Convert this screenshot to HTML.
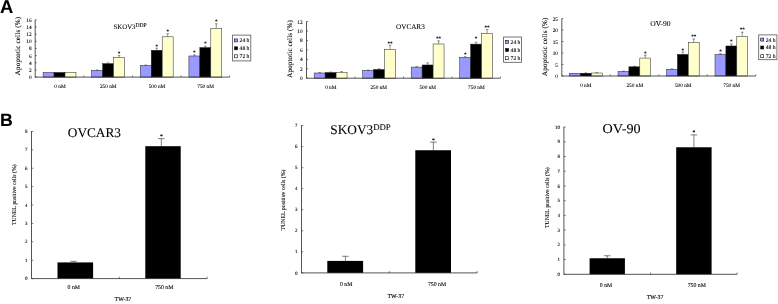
<!DOCTYPE html>
<html lang="en"><head><meta charset="utf-8"><title>Figure</title>
<style>html,body{margin:0;padding:0;background:#fff;}body{width:778px;height:304px;overflow:hidden;}svg{display:block;will-change:transform;}text{fill:#000;text-rendering:geometricPrecision;stroke:#000;stroke-width:0.09px;}</style>
</head><body>
<svg width="778" height="304" viewBox="0 0 778 304">
<rect x="0" y="0" width="778" height="304" fill="#ffffff"/>
<text x="0" y="13.1" font-size="18.4" text-anchor="start" font-family='"Liberation Sans", sans-serif' font-weight="bold">A</text>
<text x="0.1" y="126" font-size="17.7" text-anchor="start" font-family='"Liberation Sans", sans-serif' font-weight="bold">B</text>
<!-- Panel A -->
<rect x="43.1" y="72.45" width="10.95" height="4.65" fill="#9999ff" stroke="#222" stroke-width="0.5"/>
<rect x="54.05" y="72.45" width="10.95" height="4.65" fill="#000000" stroke="#222" stroke-width="0.5"/>
<rect x="65" y="72.45" width="10.95" height="4.65" fill="#ffffcc" stroke="#222" stroke-width="0.5"/>
<rect x="91.7" y="70.41" width="10.95" height="6.69" fill="#9999ff" stroke="#222" stroke-width="0.5"/>
<line x1="97.18" y1="70.41" x2="97.18" y2="69.98" stroke="#2a2a2a" stroke-width="0.5"/>
<line x1="95.88" y1="69.98" x2="98.48" y2="69.98" stroke="#2a2a2a" stroke-width="0.5"/>
<rect x="102.65" y="63.67" width="10.95" height="13.43" fill="#000000" stroke="#222" stroke-width="0.5"/>
<line x1="108.13" y1="63.67" x2="108.13" y2="62.96" stroke="#2a2a2a" stroke-width="0.5"/>
<line x1="106.83" y1="62.96" x2="109.43" y2="62.96" stroke="#2a2a2a" stroke-width="0.5"/>
<rect x="113.6" y="57.41" width="10.95" height="19.69" fill="#ffffcc" stroke="#222" stroke-width="0.5"/>
<line x1="119.08" y1="57.41" x2="119.08" y2="55.62" stroke="#2a2a2a" stroke-width="0.5"/>
<line x1="117.78" y1="55.62" x2="120.38" y2="55.62" stroke="#2a2a2a" stroke-width="0.5"/>
<text x="119.08" y="55.3" font-size="5.2" text-anchor="middle" font-family='"Liberation Serif", serif' font-weight="bold">*</text>
<rect x="140.3" y="65.46" width="10.95" height="11.63" fill="#9999ff" stroke="#222" stroke-width="0.5"/>
<line x1="145.78" y1="65.46" x2="145.78" y2="65.04" stroke="#2a2a2a" stroke-width="0.5"/>
<line x1="144.47" y1="65.04" x2="147.08" y2="65.04" stroke="#2a2a2a" stroke-width="0.5"/>
<rect x="151.25" y="50.25" width="10.95" height="26.85" fill="#000000" stroke="#222" stroke-width="0.5"/>
<line x1="156.72" y1="50.25" x2="156.72" y2="48.1" stroke="#2a2a2a" stroke-width="0.5"/>
<line x1="155.42" y1="48.1" x2="158.03" y2="48.1" stroke="#2a2a2a" stroke-width="0.5"/>
<text x="156.72" y="48.3" font-size="5.2" text-anchor="middle" font-family='"Liberation Serif", serif' font-weight="bold">*</text>
<rect x="162.2" y="36.82" width="10.95" height="40.27" fill="#ffffcc" stroke="#222" stroke-width="0.5"/>
<line x1="167.68" y1="36.82" x2="167.68" y2="33.71" stroke="#2a2a2a" stroke-width="0.5"/>
<line x1="166.38" y1="33.71" x2="168.98" y2="33.71" stroke="#2a2a2a" stroke-width="0.5"/>
<text x="167.68" y="32.8" font-size="5.2" text-anchor="middle" font-family='"Liberation Serif", serif' font-weight="bold">*</text>
<rect x="188.9" y="55.98" width="10.95" height="21.12" fill="#9999ff" stroke="#222" stroke-width="0.5"/>
<line x1="194.38" y1="55.98" x2="194.38" y2="54.9" stroke="#2a2a2a" stroke-width="0.5"/>
<line x1="193.07" y1="54.9" x2="195.68" y2="54.9" stroke="#2a2a2a" stroke-width="0.5"/>
<text x="194.38" y="54.1" font-size="5.2" text-anchor="middle" font-family='"Liberation Serif", serif' font-weight="bold">*</text>
<rect x="199.85" y="47.56" width="10.95" height="29.54" fill="#000000" stroke="#222" stroke-width="0.5"/>
<line x1="205.32" y1="47.56" x2="205.32" y2="46.13" stroke="#2a2a2a" stroke-width="0.5"/>
<line x1="204.02" y1="46.13" x2="206.62" y2="46.13" stroke="#2a2a2a" stroke-width="0.5"/>
<text x="205.32" y="44.9" font-size="5.2" text-anchor="middle" font-family='"Liberation Serif", serif' font-weight="bold">*</text>
<rect x="210.8" y="28.41" width="10.95" height="48.69" fill="#ffffcc" stroke="#222" stroke-width="0.5"/>
<line x1="216.28" y1="28.41" x2="216.28" y2="23.76" stroke="#2a2a2a" stroke-width="0.5"/>
<line x1="214.97" y1="23.76" x2="217.58" y2="23.76" stroke="#2a2a2a" stroke-width="0.5"/>
<text x="216.28" y="22.8" font-size="5.2" text-anchor="middle" font-family='"Liberation Serif", serif' font-weight="bold">*</text>
<line x1="35.2" y1="19.8" x2="35.2" y2="77.4" stroke="#2a2a2a" stroke-width="0.8"/>
<line x1="35.2" y1="77.1" x2="229.6" y2="77.1" stroke="#2a2a2a" stroke-width="0.8"/>
<line x1="35.2" y1="77.1" x2="36.8" y2="77.1" stroke="#2a2a2a" stroke-width="0.6"/>
<text x="31.6" y="79.1" font-size="5.3" text-anchor="end" font-family='"Liberation Serif", serif' >0</text>
<line x1="35.2" y1="69.94" x2="36.8" y2="69.94" stroke="#2a2a2a" stroke-width="0.6"/>
<text x="31.6" y="71.94" font-size="5.3" text-anchor="end" font-family='"Liberation Serif", serif' >2</text>
<line x1="35.2" y1="62.78" x2="36.8" y2="62.78" stroke="#2a2a2a" stroke-width="0.6"/>
<text x="31.6" y="64.78" font-size="5.3" text-anchor="end" font-family='"Liberation Serif", serif' >4</text>
<line x1="35.2" y1="55.62" x2="36.8" y2="55.62" stroke="#2a2a2a" stroke-width="0.6"/>
<text x="31.6" y="57.62" font-size="5.3" text-anchor="end" font-family='"Liberation Serif", serif' >6</text>
<line x1="35.2" y1="48.46" x2="36.8" y2="48.46" stroke="#2a2a2a" stroke-width="0.6"/>
<text x="31.6" y="50.46" font-size="5.3" text-anchor="end" font-family='"Liberation Serif", serif' >8</text>
<line x1="35.2" y1="41.3" x2="36.8" y2="41.3" stroke="#2a2a2a" stroke-width="0.6"/>
<text x="31.6" y="43.3" font-size="5.3" text-anchor="end" font-family='"Liberation Serif", serif' >10</text>
<line x1="35.2" y1="34.14" x2="36.8" y2="34.14" stroke="#2a2a2a" stroke-width="0.6"/>
<text x="31.6" y="36.14" font-size="5.3" text-anchor="end" font-family='"Liberation Serif", serif' >12</text>
<line x1="35.2" y1="26.98" x2="36.8" y2="26.98" stroke="#2a2a2a" stroke-width="0.6"/>
<text x="31.6" y="28.98" font-size="5.3" text-anchor="end" font-family='"Liberation Serif", serif' >14</text>
<line x1="35.2" y1="19.82" x2="36.8" y2="19.82" stroke="#2a2a2a" stroke-width="0.6"/>
<text x="31.6" y="21.82" font-size="5.3" text-anchor="end" font-family='"Liberation Serif", serif' >16</text>
<line x1="83.8" y1="77.1" x2="83.8" y2="75.5" stroke="#2a2a2a" stroke-width="0.6"/>
<line x1="132.4" y1="77.1" x2="132.4" y2="75.5" stroke="#2a2a2a" stroke-width="0.6"/>
<line x1="181" y1="77.1" x2="181" y2="75.5" stroke="#2a2a2a" stroke-width="0.6"/>
<line x1="229.6" y1="77.1" x2="229.6" y2="75.5" stroke="#2a2a2a" stroke-width="0.6"/>
<text x="60" y="87.6" font-size="5.3" text-anchor="middle" font-family='"Liberation Serif", serif' >0 nM</text>
<text x="108.2" y="87.6" font-size="5.3" text-anchor="middle" font-family='"Liberation Serif", serif' >250 nM</text>
<text x="157" y="87.6" font-size="5.3" text-anchor="middle" font-family='"Liberation Serif", serif' >500 nM</text>
<text x="205.6" y="87.6" font-size="5.3" text-anchor="middle" font-family='"Liberation Serif", serif' >750 nM</text>
<text transform="translate(20,46) rotate(-90)" font-size="7" text-anchor="middle" font-family='"Liberation Serif", serif'  textLength="58.4" lengthAdjust="spacing">Apoptotic cells (%)</text>
<rect x="232.6" y="35.1" width="18.2" height="25.8" fill="#fff" stroke="#555" stroke-width="0.8"/>
<rect x="234.6" y="38.9" width="3" height="3" fill="#9999ff" stroke="#111" stroke-width="0.6"/>
<text x="239.6" y="42.3" font-size="5.6" text-anchor="start" font-family='"Liberation Serif", serif' >24 h</text>
<rect x="234.6" y="46.8" width="3" height="3" fill="#000000" stroke="#111" stroke-width="0.6"/>
<text x="239.6" y="50.2" font-size="5.6" text-anchor="start" font-family='"Liberation Serif", serif' >48 h</text>
<rect x="234.6" y="54.8" width="3" height="3" fill="#ffffcc" stroke="#111" stroke-width="0.6"/>
<text x="239.6" y="58.2" font-size="5.6" text-anchor="start" font-family='"Liberation Serif", serif' >72 h</text>
<rect x="314.2" y="73.01" width="10.95" height="5.19" fill="#9999ff" stroke="#222" stroke-width="0.5"/>
<line x1="319.68" y1="73.01" x2="319.68" y2="72.54" stroke="#2a2a2a" stroke-width="0.5"/>
<line x1="318.38" y1="72.54" x2="320.98" y2="72.54" stroke="#2a2a2a" stroke-width="0.5"/>
<rect x="325.15" y="72.54" width="10.95" height="5.66" fill="#000000" stroke="#222" stroke-width="0.5"/>
<line x1="330.62" y1="72.54" x2="330.62" y2="72.06" stroke="#2a2a2a" stroke-width="0.5"/>
<line x1="329.32" y1="72.06" x2="331.93" y2="72.06" stroke="#2a2a2a" stroke-width="0.5"/>
<rect x="336.1" y="72.3" width="10.95" height="5.9" fill="#ffffcc" stroke="#222" stroke-width="0.5"/>
<line x1="341.57" y1="72.3" x2="341.57" y2="71.59" stroke="#2a2a2a" stroke-width="0.5"/>
<line x1="340.27" y1="71.59" x2="342.88" y2="71.59" stroke="#2a2a2a" stroke-width="0.5"/>
<rect x="362.7" y="70.41" width="10.95" height="7.79" fill="#9999ff" stroke="#222" stroke-width="0.5"/>
<line x1="368.18" y1="70.41" x2="368.18" y2="70.03" stroke="#2a2a2a" stroke-width="0.5"/>
<line x1="366.88" y1="70.03" x2="369.48" y2="70.03" stroke="#2a2a2a" stroke-width="0.5"/>
<rect x="373.65" y="69.47" width="10.95" height="8.73" fill="#000000" stroke="#222" stroke-width="0.5"/>
<line x1="379.12" y1="69.47" x2="379.12" y2="68.76" stroke="#2a2a2a" stroke-width="0.5"/>
<line x1="377.82" y1="68.76" x2="380.43" y2="68.76" stroke="#2a2a2a" stroke-width="0.5"/>
<rect x="384.6" y="49.41" width="10.95" height="28.79" fill="#ffffcc" stroke="#222" stroke-width="0.5"/>
<line x1="390.07" y1="49.41" x2="390.07" y2="45.16" stroke="#2a2a2a" stroke-width="0.5"/>
<line x1="388.77" y1="45.16" x2="391.38" y2="45.16" stroke="#2a2a2a" stroke-width="0.5"/>
<text x="390.07" y="45" font-size="5.2" text-anchor="middle" font-family='"Liberation Serif", serif' font-weight="bold">**</text>
<rect x="411.2" y="67.11" width="10.95" height="11.09" fill="#9999ff" stroke="#222" stroke-width="0.5"/>
<line x1="416.68" y1="67.11" x2="416.68" y2="66.64" stroke="#2a2a2a" stroke-width="0.5"/>
<line x1="415.38" y1="66.64" x2="417.98" y2="66.64" stroke="#2a2a2a" stroke-width="0.5"/>
<rect x="422.15" y="64.98" width="10.95" height="13.22" fill="#000000" stroke="#222" stroke-width="0.5"/>
<line x1="427.62" y1="64.98" x2="427.62" y2="62.86" stroke="#2a2a2a" stroke-width="0.5"/>
<line x1="426.32" y1="62.86" x2="428.93" y2="62.86" stroke="#2a2a2a" stroke-width="0.5"/>
<rect x="433.1" y="43.98" width="10.95" height="34.22" fill="#ffffcc" stroke="#222" stroke-width="0.5"/>
<line x1="438.57" y1="43.98" x2="438.57" y2="40.91" stroke="#2a2a2a" stroke-width="0.5"/>
<line x1="437.27" y1="40.91" x2="439.88" y2="40.91" stroke="#2a2a2a" stroke-width="0.5"/>
<text x="438.57" y="40" font-size="5.2" text-anchor="middle" font-family='"Liberation Serif", serif' font-weight="bold">**</text>
<rect x="459.7" y="57.43" width="10.95" height="20.77" fill="#9999ff" stroke="#222" stroke-width="0.5"/>
<line x1="465.18" y1="57.43" x2="465.18" y2="56.72" stroke="#2a2a2a" stroke-width="0.5"/>
<line x1="463.88" y1="56.72" x2="466.48" y2="56.72" stroke="#2a2a2a" stroke-width="0.5"/>
<text x="465.18" y="56.3" font-size="5.2" text-anchor="middle" font-family='"Liberation Serif", serif' font-weight="bold">*</text>
<rect x="470.65" y="44.12" width="10.95" height="34.08" fill="#000000" stroke="#222" stroke-width="0.5"/>
<line x1="476.12" y1="44.12" x2="476.12" y2="42.23" stroke="#2a2a2a" stroke-width="0.5"/>
<line x1="474.82" y1="42.23" x2="477.43" y2="42.23" stroke="#2a2a2a" stroke-width="0.5"/>
<text x="476.12" y="40.2" font-size="5.2" text-anchor="middle" font-family='"Liberation Serif", serif' font-weight="bold">*</text>
<rect x="481.6" y="33.36" width="10.95" height="44.84" fill="#ffffcc" stroke="#222" stroke-width="0.5"/>
<line x1="487.07" y1="33.36" x2="487.07" y2="29.58" stroke="#2a2a2a" stroke-width="0.5"/>
<line x1="485.77" y1="29.58" x2="488.38" y2="29.58" stroke="#2a2a2a" stroke-width="0.5"/>
<text x="487.07" y="29.1" font-size="5.2" text-anchor="middle" font-family='"Liberation Serif", serif' font-weight="bold">**</text>
<line x1="306.5" y1="21.5" x2="306.5" y2="78.5" stroke="#2a2a2a" stroke-width="0.8"/>
<line x1="306.5" y1="78.2" x2="500.5" y2="78.2" stroke="#2a2a2a" stroke-width="0.8"/>
<line x1="306.5" y1="78.2" x2="308.1" y2="78.2" stroke="#2a2a2a" stroke-width="0.6"/>
<text x="302.6" y="80.2" font-size="5.3" text-anchor="end" font-family='"Liberation Serif", serif' >0</text>
<line x1="306.5" y1="68.76" x2="308.1" y2="68.76" stroke="#2a2a2a" stroke-width="0.6"/>
<text x="302.6" y="70.76" font-size="5.3" text-anchor="end" font-family='"Liberation Serif", serif' >2</text>
<line x1="306.5" y1="59.32" x2="308.1" y2="59.32" stroke="#2a2a2a" stroke-width="0.6"/>
<text x="302.6" y="61.32" font-size="5.3" text-anchor="end" font-family='"Liberation Serif", serif' >4</text>
<line x1="306.5" y1="49.88" x2="308.1" y2="49.88" stroke="#2a2a2a" stroke-width="0.6"/>
<text x="302.6" y="51.88" font-size="5.3" text-anchor="end" font-family='"Liberation Serif", serif' >6</text>
<line x1="306.5" y1="40.44" x2="308.1" y2="40.44" stroke="#2a2a2a" stroke-width="0.6"/>
<text x="302.6" y="42.44" font-size="5.3" text-anchor="end" font-family='"Liberation Serif", serif' >8</text>
<line x1="306.5" y1="31" x2="308.1" y2="31" stroke="#2a2a2a" stroke-width="0.6"/>
<text x="302.6" y="33" font-size="5.3" text-anchor="end" font-family='"Liberation Serif", serif' >10</text>
<line x1="306.5" y1="21.56" x2="308.1" y2="21.56" stroke="#2a2a2a" stroke-width="0.6"/>
<text x="302.6" y="23.56" font-size="5.3" text-anchor="end" font-family='"Liberation Serif", serif' >12</text>
<line x1="355" y1="78.2" x2="355" y2="76.6" stroke="#2a2a2a" stroke-width="0.6"/>
<line x1="403.5" y1="78.2" x2="403.5" y2="76.6" stroke="#2a2a2a" stroke-width="0.6"/>
<line x1="452" y1="78.2" x2="452" y2="76.6" stroke="#2a2a2a" stroke-width="0.6"/>
<line x1="500.5" y1="78.2" x2="500.5" y2="76.6" stroke="#2a2a2a" stroke-width="0.6"/>
<text x="330.8" y="88.8" font-size="5.3" text-anchor="middle" font-family='"Liberation Serif", serif' >0 nM</text>
<text x="378.7" y="88.8" font-size="5.3" text-anchor="middle" font-family='"Liberation Serif", serif' >250 nM</text>
<text x="427.7" y="88.8" font-size="5.3" text-anchor="middle" font-family='"Liberation Serif", serif' >500 nM</text>
<text x="476.4" y="88.8" font-size="5.3" text-anchor="middle" font-family='"Liberation Serif", serif' >750 nM</text>
<text transform="translate(291.7,48.9) rotate(-90)" font-size="7" text-anchor="middle" font-family='"Liberation Serif", serif'  textLength="57.7" lengthAdjust="spacing">Apoptotic cells (%)</text>
<rect x="503.6" y="37" width="17.9" height="25.3" fill="#fff" stroke="#555" stroke-width="0.8"/>
<rect x="505.6" y="40.3" width="3" height="3" fill="#9999ff" stroke="#111" stroke-width="0.6"/>
<text x="510.6" y="43.7" font-size="5.6" text-anchor="start" font-family='"Liberation Serif", serif' >24 h</text>
<rect x="505.6" y="48.5" width="3" height="3" fill="#000000" stroke="#111" stroke-width="0.6"/>
<text x="510.6" y="51.9" font-size="5.6" text-anchor="start" font-family='"Liberation Serif", serif' >48 h</text>
<rect x="505.6" y="56.7" width="3" height="3" fill="#ffffcc" stroke="#111" stroke-width="0.6"/>
<text x="510.6" y="60.1" font-size="5.6" text-anchor="start" font-family='"Liberation Serif", serif' >72 h</text>
<rect x="569.5" y="73.24" width="10.9" height="2.76" fill="#9999ff" stroke="#222" stroke-width="0.5"/>
<rect x="580.4" y="73.24" width="10.9" height="2.76" fill="#000000" stroke="#222" stroke-width="0.5"/>
<line x1="585.85" y1="73.24" x2="585.85" y2="72.89" stroke="#2a2a2a" stroke-width="0.5"/>
<line x1="584.55" y1="72.89" x2="587.15" y2="72.89" stroke="#2a2a2a" stroke-width="0.5"/>
<rect x="591.3" y="73.01" width="10.9" height="2.99" fill="#ffffcc" stroke="#222" stroke-width="0.5"/>
<line x1="596.75" y1="73.01" x2="596.75" y2="72.67" stroke="#2a2a2a" stroke-width="0.5"/>
<line x1="595.45" y1="72.67" x2="598.05" y2="72.67" stroke="#2a2a2a" stroke-width="0.5"/>
<rect x="618" y="71.52" width="10.9" height="4.48" fill="#9999ff" stroke="#222" stroke-width="0.5"/>
<line x1="623.45" y1="71.52" x2="623.45" y2="71.17" stroke="#2a2a2a" stroke-width="0.5"/>
<line x1="622.15" y1="71.17" x2="624.75" y2="71.17" stroke="#2a2a2a" stroke-width="0.5"/>
<rect x="628.9" y="66.8" width="10.9" height="9.2" fill="#000000" stroke="#222" stroke-width="0.5"/>
<line x1="634.35" y1="66.8" x2="634.35" y2="66.22" stroke="#2a2a2a" stroke-width="0.5"/>
<line x1="633.05" y1="66.22" x2="635.65" y2="66.22" stroke="#2a2a2a" stroke-width="0.5"/>
<rect x="639.8" y="58.06" width="10.9" height="17.94" fill="#ffffcc" stroke="#222" stroke-width="0.5"/>
<line x1="645.25" y1="58.06" x2="645.25" y2="55.07" stroke="#2a2a2a" stroke-width="0.5"/>
<line x1="643.95" y1="55.07" x2="646.55" y2="55.07" stroke="#2a2a2a" stroke-width="0.5"/>
<text x="645.25" y="55.1" font-size="5.2" text-anchor="middle" font-family='"Liberation Serif", serif' font-weight="bold">*</text>
<rect x="666.5" y="69.33" width="10.9" height="6.67" fill="#9999ff" stroke="#222" stroke-width="0.5"/>
<line x1="671.95" y1="69.33" x2="671.95" y2="68.87" stroke="#2a2a2a" stroke-width="0.5"/>
<line x1="670.65" y1="68.87" x2="673.25" y2="68.87" stroke="#2a2a2a" stroke-width="0.5"/>
<rect x="677.4" y="54.38" width="10.9" height="21.62" fill="#000000" stroke="#222" stroke-width="0.5"/>
<line x1="682.85" y1="54.38" x2="682.85" y2="51.97" stroke="#2a2a2a" stroke-width="0.5"/>
<line x1="681.55" y1="51.97" x2="684.15" y2="51.97" stroke="#2a2a2a" stroke-width="0.5"/>
<text x="682.85" y="51.7" font-size="5.2" text-anchor="middle" font-family='"Liberation Serif", serif' font-weight="bold">*</text>
<rect x="688.3" y="42.42" width="10.9" height="33.58" fill="#ffffcc" stroke="#222" stroke-width="0.5"/>
<line x1="693.75" y1="42.42" x2="693.75" y2="38.97" stroke="#2a2a2a" stroke-width="0.5"/>
<line x1="692.45" y1="38.97" x2="695.05" y2="38.97" stroke="#2a2a2a" stroke-width="0.5"/>
<text x="693.75" y="38.3" font-size="5.2" text-anchor="middle" font-family='"Liberation Serif", serif' font-weight="bold">**</text>
<rect x="715" y="54.38" width="10.9" height="21.62" fill="#9999ff" stroke="#222" stroke-width="0.5"/>
<line x1="720.45" y1="54.38" x2="720.45" y2="53.69" stroke="#2a2a2a" stroke-width="0.5"/>
<line x1="719.15" y1="53.69" x2="721.75" y2="53.69" stroke="#2a2a2a" stroke-width="0.5"/>
<text x="720.45" y="52.6" font-size="5.2" text-anchor="middle" font-family='"Liberation Serif", serif' font-weight="bold">*</text>
<rect x="725.9" y="45.98" width="10.9" height="30.02" fill="#000000" stroke="#222" stroke-width="0.5"/>
<line x1="731.35" y1="45.98" x2="731.35" y2="43.91" stroke="#2a2a2a" stroke-width="0.5"/>
<line x1="730.05" y1="43.91" x2="732.65" y2="43.91" stroke="#2a2a2a" stroke-width="0.5"/>
<text x="731.35" y="43" font-size="5.2" text-anchor="middle" font-family='"Liberation Serif", serif' font-weight="bold">*</text>
<rect x="736.8" y="36.33" width="10.9" height="39.67" fill="#ffffcc" stroke="#222" stroke-width="0.5"/>
<line x1="742.25" y1="36.33" x2="742.25" y2="32.19" stroke="#2a2a2a" stroke-width="0.5"/>
<line x1="740.95" y1="32.19" x2="743.55" y2="32.19" stroke="#2a2a2a" stroke-width="0.5"/>
<text x="742.25" y="31.1" font-size="5.2" text-anchor="middle" font-family='"Liberation Serif", serif' font-weight="bold">**</text>
<line x1="561.8" y1="18.5" x2="561.8" y2="76.3" stroke="#2a2a2a" stroke-width="0.8"/>
<line x1="561.8" y1="76" x2="755.8" y2="76" stroke="#2a2a2a" stroke-width="0.8"/>
<line x1="561.8" y1="76" x2="563.4" y2="76" stroke="#2a2a2a" stroke-width="0.6"/>
<text x="558" y="78" font-size="5.3" text-anchor="end" font-family='"Liberation Serif", serif' >0</text>
<line x1="561.8" y1="64.5" x2="563.4" y2="64.5" stroke="#2a2a2a" stroke-width="0.6"/>
<text x="558" y="66.5" font-size="5.3" text-anchor="end" font-family='"Liberation Serif", serif' >5</text>
<line x1="561.8" y1="53" x2="563.4" y2="53" stroke="#2a2a2a" stroke-width="0.6"/>
<text x="558" y="55" font-size="5.3" text-anchor="end" font-family='"Liberation Serif", serif' >10</text>
<line x1="561.8" y1="41.5" x2="563.4" y2="41.5" stroke="#2a2a2a" stroke-width="0.6"/>
<text x="558" y="43.5" font-size="5.3" text-anchor="end" font-family='"Liberation Serif", serif' >15</text>
<line x1="561.8" y1="30" x2="563.4" y2="30" stroke="#2a2a2a" stroke-width="0.6"/>
<text x="558" y="32" font-size="5.3" text-anchor="end" font-family='"Liberation Serif", serif' >20</text>
<line x1="561.8" y1="18.5" x2="563.4" y2="18.5" stroke="#2a2a2a" stroke-width="0.6"/>
<text x="558" y="20.5" font-size="5.3" text-anchor="end" font-family='"Liberation Serif", serif' >25</text>
<line x1="610.3" y1="76" x2="610.3" y2="74.4" stroke="#2a2a2a" stroke-width="0.6"/>
<line x1="658.8" y1="76" x2="658.8" y2="74.4" stroke="#2a2a2a" stroke-width="0.6"/>
<line x1="707.3" y1="76" x2="707.3" y2="74.4" stroke="#2a2a2a" stroke-width="0.6"/>
<line x1="755.8" y1="76" x2="755.8" y2="74.4" stroke="#2a2a2a" stroke-width="0.6"/>
<text x="585.8" y="87.1" font-size="5.3" text-anchor="middle" font-family='"Liberation Serif", serif' >0 nM</text>
<text x="634.8" y="87.1" font-size="5.3" text-anchor="middle" font-family='"Liberation Serif", serif' >250 nM</text>
<text x="683.2" y="87.1" font-size="5.3" text-anchor="middle" font-family='"Liberation Serif", serif' >500 nM</text>
<text x="731.6" y="87.1" font-size="5.3" text-anchor="middle" font-family='"Liberation Serif", serif' >750 nM</text>
<text transform="translate(547.3,46.8) rotate(-90)" font-size="7" text-anchor="middle" font-family='"Liberation Serif", serif'  textLength="58.5" lengthAdjust="spacing">Apoptotic cells (%)</text>
<rect x="758.7" y="34.9" width="18.2" height="24.8" fill="#fff" stroke="#555" stroke-width="0.8"/>
<rect x="760.7" y="38.1" width="3" height="3" fill="#9999ff" stroke="#111" stroke-width="0.6"/>
<text x="765.7" y="41.5" font-size="5.6" text-anchor="start" font-family='"Liberation Serif", serif' >24 h</text>
<rect x="760.7" y="46" width="3" height="3" fill="#000000" stroke="#111" stroke-width="0.6"/>
<text x="765.7" y="49.4" font-size="5.6" text-anchor="start" font-family='"Liberation Serif", serif' >48 h</text>
<rect x="760.7" y="54.7" width="3" height="3" fill="#ffffcc" stroke="#111" stroke-width="0.6"/>
<text x="765.7" y="58.1" font-size="5.6" text-anchor="start" font-family='"Liberation Serif", serif' >72 h</text>
<text x="113.6" y="28.5" font-size="6.8" font-family='"Liberation Serif", serif'>SKOV3<tspan font-size="5.6" dy="-1.6">DDP</tspan></text>
<text x="396" y="28.8" font-size="7.2" text-anchor="start" font-family='"Liberation Serif", serif' >OVCAR3</text>
<text x="650.3" y="25.9" font-size="7.5" text-anchor="start" font-family='"Liberation Serif", serif' >OV-90</text>
<!-- Panel B -->
<rect x="57.5" y="262.42" width="35.6" height="16.18" fill="#000000"/>
<line x1="73.6" y1="262.42" x2="73.6" y2="261.31" stroke="#2a2a2a" stroke-width="0.6"/>
<line x1="70.3" y1="261.31" x2="76.9" y2="261.31" stroke="#2a2a2a" stroke-width="0.6"/>
<rect x="145.3" y="146.19" width="35.4" height="132.41" fill="#000000"/>
<line x1="161.3" y1="146.19" x2="161.3" y2="138.65" stroke="#2a2a2a" stroke-width="0.6"/>
<line x1="158" y1="138.65" x2="164.6" y2="138.65" stroke="#2a2a2a" stroke-width="0.6"/>
<text x="161.3" y="138" font-size="5.6" text-anchor="middle" font-family='"Liberation Serif", serif' font-weight="bold">*</text>
<line x1="31.5" y1="131" x2="31.5" y2="278.9" stroke="#2a2a2a" stroke-width="0.8"/>
<line x1="31.5" y1="278.6" x2="207.2" y2="278.6" stroke="#2a2a2a" stroke-width="0.8"/>
<line x1="31.5" y1="278.6" x2="33.3" y2="278.6" stroke="#2a2a2a" stroke-width="0.6"/>
<text x="27.4" y="280.2" font-size="5" text-anchor="end" font-family='"Liberation Serif", serif' >0</text>
<line x1="31.5" y1="260.21" x2="33.3" y2="260.21" stroke="#2a2a2a" stroke-width="0.6"/>
<text x="27.4" y="261.81" font-size="5" text-anchor="end" font-family='"Liberation Serif", serif' >1</text>
<line x1="31.5" y1="241.82" x2="33.3" y2="241.82" stroke="#2a2a2a" stroke-width="0.6"/>
<text x="27.4" y="243.42" font-size="5" text-anchor="end" font-family='"Liberation Serif", serif' >2</text>
<line x1="31.5" y1="223.43" x2="33.3" y2="223.43" stroke="#2a2a2a" stroke-width="0.6"/>
<text x="27.4" y="225.03" font-size="5" text-anchor="end" font-family='"Liberation Serif", serif' >3</text>
<line x1="31.5" y1="205.04" x2="33.3" y2="205.04" stroke="#2a2a2a" stroke-width="0.6"/>
<text x="27.4" y="206.64" font-size="5" text-anchor="end" font-family='"Liberation Serif", serif' >4</text>
<line x1="31.5" y1="186.65" x2="33.3" y2="186.65" stroke="#2a2a2a" stroke-width="0.6"/>
<text x="27.4" y="188.25" font-size="5" text-anchor="end" font-family='"Liberation Serif", serif' >5</text>
<line x1="31.5" y1="168.26" x2="33.3" y2="168.26" stroke="#2a2a2a" stroke-width="0.6"/>
<text x="27.4" y="169.86" font-size="5" text-anchor="end" font-family='"Liberation Serif", serif' >6</text>
<line x1="31.5" y1="149.87" x2="33.3" y2="149.87" stroke="#2a2a2a" stroke-width="0.6"/>
<text x="27.4" y="151.47" font-size="5" text-anchor="end" font-family='"Liberation Serif", serif' >7</text>
<line x1="31.5" y1="131.48" x2="33.3" y2="131.48" stroke="#2a2a2a" stroke-width="0.6"/>
<text x="27.4" y="133.08" font-size="5" text-anchor="end" font-family='"Liberation Serif", serif' >8</text>
<line x1="119.35" y1="278.6" x2="119.35" y2="276.8" stroke="#2a2a2a" stroke-width="0.6"/>
<line x1="207.2" y1="278.6" x2="207.2" y2="276.8" stroke="#2a2a2a" stroke-width="0.6"/>
<text x="73.8" y="289" font-size="5.8" text-anchor="middle" font-family='"Liberation Serif", serif' >0 nM</text>
<text x="164.3" y="289" font-size="5.8" text-anchor="middle" font-family='"Liberation Serif", serif' >750 nM</text>
<text x="114.6" y="301.3" font-size="5.9" text-anchor="start" font-family='"Liberation Serif", serif' >TW-37</text>
<text transform="translate(16.2,194.7) rotate(-90)" font-size="5.8" text-anchor="middle" font-family='"Liberation Serif", serif' >TUNEL positive cells (%)</text>
<rect x="327.3" y="260.91" width="35.8" height="11.99" fill="#000000"/>
<line x1="345.4" y1="260.91" x2="345.4" y2="256.28" stroke="#2a2a2a" stroke-width="0.6"/>
<line x1="342.1" y1="256.28" x2="348.7" y2="256.28" stroke="#2a2a2a" stroke-width="0.6"/>
<rect x="415.3" y="150.24" width="35.7" height="122.66" fill="#000000"/>
<line x1="433.35" y1="150.24" x2="433.35" y2="142.14" stroke="#2a2a2a" stroke-width="0.6"/>
<line x1="430.05" y1="142.14" x2="436.65" y2="142.14" stroke="#2a2a2a" stroke-width="0.6"/>
<text x="433.35" y="141.9" font-size="5.6" text-anchor="middle" font-family='"Liberation Serif", serif' font-weight="bold">*</text>
<line x1="301.5" y1="125.1" x2="301.5" y2="273.2" stroke="#2a2a2a" stroke-width="0.8"/>
<line x1="301.5" y1="272.9" x2="477.2" y2="272.9" stroke="#2a2a2a" stroke-width="0.8"/>
<line x1="301.5" y1="272.9" x2="303.3" y2="272.9" stroke="#2a2a2a" stroke-width="0.6"/>
<text x="297.6" y="274.5" font-size="5" text-anchor="end" font-family='"Liberation Serif", serif' >0</text>
<line x1="301.5" y1="251.86" x2="303.3" y2="251.86" stroke="#2a2a2a" stroke-width="0.6"/>
<text x="297.6" y="253.46" font-size="5" text-anchor="end" font-family='"Liberation Serif", serif' >1</text>
<line x1="301.5" y1="230.82" x2="303.3" y2="230.82" stroke="#2a2a2a" stroke-width="0.6"/>
<text x="297.6" y="232.42" font-size="5" text-anchor="end" font-family='"Liberation Serif", serif' >2</text>
<line x1="301.5" y1="209.78" x2="303.3" y2="209.78" stroke="#2a2a2a" stroke-width="0.6"/>
<text x="297.6" y="211.38" font-size="5" text-anchor="end" font-family='"Liberation Serif", serif' >3</text>
<line x1="301.5" y1="188.74" x2="303.3" y2="188.74" stroke="#2a2a2a" stroke-width="0.6"/>
<text x="297.6" y="190.34" font-size="5" text-anchor="end" font-family='"Liberation Serif", serif' >4</text>
<line x1="301.5" y1="167.7" x2="303.3" y2="167.7" stroke="#2a2a2a" stroke-width="0.6"/>
<text x="297.6" y="169.3" font-size="5" text-anchor="end" font-family='"Liberation Serif", serif' >5</text>
<line x1="301.5" y1="146.66" x2="303.3" y2="146.66" stroke="#2a2a2a" stroke-width="0.6"/>
<text x="297.6" y="148.26" font-size="5" text-anchor="end" font-family='"Liberation Serif", serif' >6</text>
<line x1="301.5" y1="125.62" x2="303.3" y2="125.62" stroke="#2a2a2a" stroke-width="0.6"/>
<text x="297.6" y="127.22" font-size="5" text-anchor="end" font-family='"Liberation Serif", serif' >7</text>
<line x1="389.35" y1="272.9" x2="389.35" y2="271.1" stroke="#2a2a2a" stroke-width="0.6"/>
<line x1="477.2" y1="272.9" x2="477.2" y2="271.1" stroke="#2a2a2a" stroke-width="0.6"/>
<text x="346.2" y="285.8" font-size="5.8" text-anchor="middle" font-family='"Liberation Serif", serif' >0 nM</text>
<text x="437" y="285.8" font-size="5.8" text-anchor="middle" font-family='"Liberation Serif", serif' >750 nM</text>
<text x="387.4" y="298.2" font-size="5.9" text-anchor="start" font-family='"Liberation Serif", serif' >TW-37</text>
<text transform="translate(284.9,200) rotate(-90)" font-size="5.8" text-anchor="middle" font-family='"Liberation Serif", serif' >TUNEL positive cells (%)</text>
<rect x="589.6" y="258.26" width="35.3" height="16.04" fill="#000000"/>
<line x1="607.25" y1="258.26" x2="607.25" y2="255.75" stroke="#2a2a2a" stroke-width="0.6"/>
<line x1="603.95" y1="255.75" x2="610.55" y2="255.75" stroke="#2a2a2a" stroke-width="0.6"/>
<rect x="676.2" y="147.27" width="35.4" height="127.03" fill="#000000"/>
<line x1="693.9" y1="147.27" x2="693.9" y2="134.9" stroke="#2a2a2a" stroke-width="0.6"/>
<line x1="690.6" y1="134.9" x2="697.2" y2="134.9" stroke="#2a2a2a" stroke-width="0.6"/>
<text x="693.9" y="134.3" font-size="5.6" text-anchor="middle" font-family='"Liberation Serif", serif' font-weight="bold">*</text>
<line x1="563.9" y1="126.8" x2="563.9" y2="274.6" stroke="#2a2a2a" stroke-width="0.8"/>
<line x1="563.9" y1="274.3" x2="737.2" y2="274.3" stroke="#2a2a2a" stroke-width="0.8"/>
<line x1="563.9" y1="274.3" x2="565.7" y2="274.3" stroke="#2a2a2a" stroke-width="0.6"/>
<text x="560" y="275.9" font-size="5" text-anchor="end" font-family='"Liberation Serif", serif' >0</text>
<line x1="563.9" y1="259.58" x2="565.7" y2="259.58" stroke="#2a2a2a" stroke-width="0.6"/>
<text x="560" y="261.18" font-size="5" text-anchor="end" font-family='"Liberation Serif", serif' >1</text>
<line x1="563.9" y1="244.86" x2="565.7" y2="244.86" stroke="#2a2a2a" stroke-width="0.6"/>
<text x="560" y="246.46" font-size="5" text-anchor="end" font-family='"Liberation Serif", serif' >2</text>
<line x1="563.9" y1="230.14" x2="565.7" y2="230.14" stroke="#2a2a2a" stroke-width="0.6"/>
<text x="560" y="231.74" font-size="5" text-anchor="end" font-family='"Liberation Serif", serif' >3</text>
<line x1="563.9" y1="215.42" x2="565.7" y2="215.42" stroke="#2a2a2a" stroke-width="0.6"/>
<text x="560" y="217.02" font-size="5" text-anchor="end" font-family='"Liberation Serif", serif' >4</text>
<line x1="563.9" y1="200.7" x2="565.7" y2="200.7" stroke="#2a2a2a" stroke-width="0.6"/>
<text x="560" y="202.3" font-size="5" text-anchor="end" font-family='"Liberation Serif", serif' >5</text>
<line x1="563.9" y1="185.98" x2="565.7" y2="185.98" stroke="#2a2a2a" stroke-width="0.6"/>
<text x="560" y="187.58" font-size="5" text-anchor="end" font-family='"Liberation Serif", serif' >6</text>
<line x1="563.9" y1="171.26" x2="565.7" y2="171.26" stroke="#2a2a2a" stroke-width="0.6"/>
<text x="560" y="172.86" font-size="5" text-anchor="end" font-family='"Liberation Serif", serif' >7</text>
<line x1="563.9" y1="156.54" x2="565.7" y2="156.54" stroke="#2a2a2a" stroke-width="0.6"/>
<text x="560" y="158.14" font-size="5" text-anchor="end" font-family='"Liberation Serif", serif' >8</text>
<line x1="563.9" y1="141.82" x2="565.7" y2="141.82" stroke="#2a2a2a" stroke-width="0.6"/>
<text x="560" y="143.42" font-size="5" text-anchor="end" font-family='"Liberation Serif", serif' >9</text>
<line x1="563.9" y1="127.1" x2="565.7" y2="127.1" stroke="#2a2a2a" stroke-width="0.6"/>
<text x="560" y="128.7" font-size="5" text-anchor="end" font-family='"Liberation Serif", serif' >10</text>
<line x1="650.55" y1="274.3" x2="650.55" y2="272.5" stroke="#2a2a2a" stroke-width="0.6"/>
<line x1="737.2" y1="274.3" x2="737.2" y2="272.5" stroke="#2a2a2a" stroke-width="0.6"/>
<text x="606" y="286.6" font-size="5.8" text-anchor="middle" font-family='"Liberation Serif", serif' >0 nM</text>
<text x="696.8" y="286.6" font-size="5.8" text-anchor="middle" font-family='"Liberation Serif", serif' >750 nM</text>
<text x="646.7" y="298.6" font-size="5.9" text-anchor="start" font-family='"Liberation Serif", serif' >TW-37</text>
<text transform="translate(549.3,197.7) rotate(-90)" font-size="5.8" text-anchor="middle" font-family='"Liberation Serif", serif' >TUNEL positive cells (%)</text>
<text x="67.8" y="136.9" font-size="13.3" text-anchor="start" font-family='"Liberation Serif", serif' >OVCAR3</text>
<text x="330.3" y="133.5" font-size="13.3" font-family='"Liberation Serif", serif'>SKOV3<tspan font-size="8.8" dy="-3.7">DDP</tspan></text>
<text x="602.6" y="133.2" font-size="13.5" text-anchor="start" font-family='"Liberation Serif", serif' textLength="38" lengthAdjust="spacingAndGlyphs">OV-90</text>
</svg></body></html>
